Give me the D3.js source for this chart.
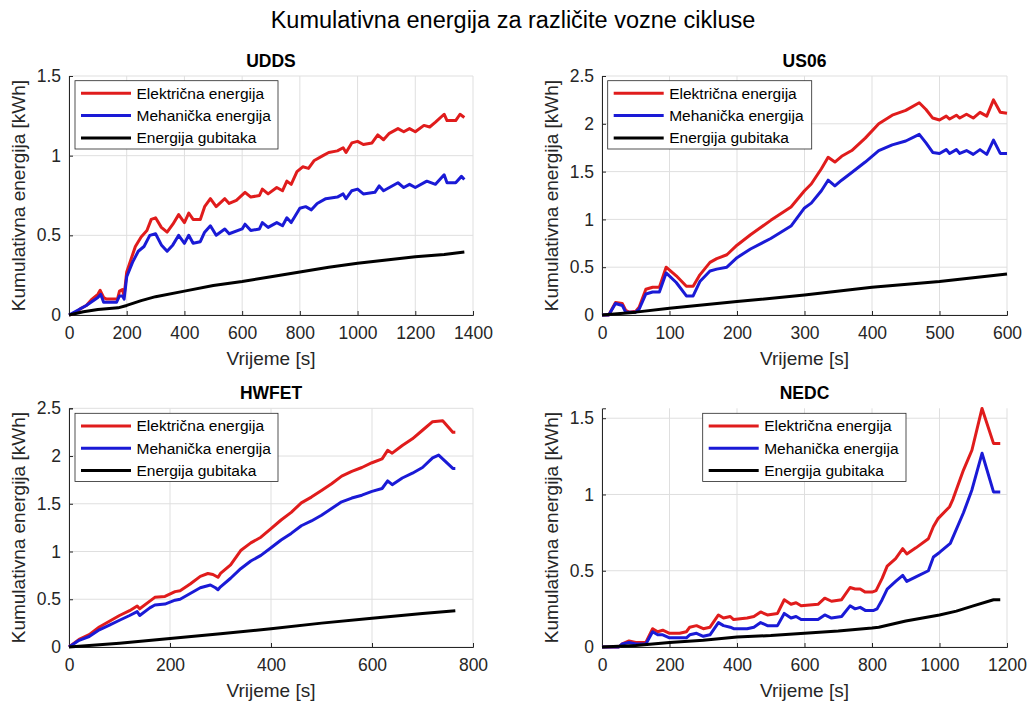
<!DOCTYPE html>
<html>
<head>
<meta charset="utf-8">
<script src="https://cdn.jsdelivr.net/npm/d3@7"></script>
<style>
  html, body { margin: 0; padding: 0; background: #fff; }
  svg { display: block; font-family: "Liberation Sans", Arial, sans-serif; }
</style>
</head>
<body>
<svg id="chart" width="1027" height="704"></svg>
<script>
// ---------- DATA ----------
const chartTitle = "Kumulativna energija za različite vozne cikluse";
const cycleNames = ["UDDS", "US06", "HWFET", "NEDC"];
const seriesNames = ["Električna energija", "Mehanička energija", "Energija gubitaka"];
const xLabel = "Vrijeme [s]";
const yLabel = "Kumulativna energija [kWh]";

// UDDS [time s, energy kWh]
const uddsElec = [[0,0],[20,0.01],[40,0.04],[60,0.06],[80,0.1],[100,0.13],[108,0.155],[120,0.11],[130,0.1],[168,0.1],[175,0.15],[185,0.16],[191,0.12],[200,0.27],[215,0.35],[230,0.43],[250,0.49],[270,0.53],[285,0.6],[300,0.61],[320,0.55],[340,0.52],[360,0.57],[380,0.63],[400,0.58],[415,0.64],[430,0.6],[455,0.6],[470,0.68],[490,0.73],[510,0.68],[540,0.73],[555,0.7],[580,0.72],[610,0.77],[630,0.74],[660,0.75],[670,0.79],[690,0.76],[720,0.8],[740,0.78],[755,0.84],[770,0.82],[790,0.9],[810,0.93],[830,0.92],[850,0.97],[880,1.0],[900,1.02],[930,1.03],[950,1.05],[960,1.02],[980,1.08],[1000,1.09],[1020,1.07],[1050,1.08],[1070,1.13],[1090,1.1],[1110,1.14],[1140,1.17],[1160,1.15],[1180,1.17],[1200,1.15],[1230,1.19],[1250,1.18],[1270,1.21],[1300,1.26],[1310,1.22],[1340,1.22],[1355,1.26],[1370,1.24]];
const uddsMech = [[0,0],[30,0.03],[60,0.06],[100,0.11],[110,0.13],[120,0.08],[165,0.08],[175,0.12],[185,0.12],[191,0.1],[200,0.24],[220,0.33],[240,0.4],[260,0.43],[280,0.5],[300,0.51],[320,0.44],[340,0.4],[360,0.44],[380,0.5],[400,0.45],[415,0.5],[430,0.45],[455,0.46],[470,0.52],[490,0.56],[510,0.5],[540,0.54],[555,0.51],[600,0.54],[610,0.57],[630,0.53],[660,0.54],[670,0.58],[690,0.55],[720,0.58],[740,0.56],[755,0.61],[770,0.58],[800,0.67],[820,0.68],[840,0.66],[860,0.7],[890,0.73],[930,0.74],[950,0.76],[960,0.73],[980,0.78],[1000,0.79],[1020,0.76],[1060,0.77],[1075,0.81],[1090,0.78],[1140,0.83],[1160,0.8],[1180,0.82],[1200,0.8],[1240,0.84],[1270,0.82],[1300,0.88],[1310,0.83],[1340,0.83],[1360,0.87],[1370,0.85]];
const uddsLoss = [[0,0],[50,0.02],[100,0.035],[170,0.045],[200,0.06],[250,0.09],[300,0.115],[400,0.15],[500,0.185],[600,0.21],[700,0.24],[800,0.27],[900,0.3],[1000,0.325],[1100,0.345],[1200,0.365],[1300,0.38],[1370,0.395]];

// US06
const us06Elec = [[0,0],[10,0],[20,0.13],[30,0.12],[35,0.05],[40,0.03],[50,0.04],[55,0.08],[65,0.27],[75,0.29],[85,0.29],[95,0.5],[110,0.41],[125,0.3],[135,0.3],[145,0.42],[160,0.55],[170,0.59],[185,0.63],[200,0.73],[220,0.84],[250,0.99],[280,1.13],[300,1.3],[310,1.37],[325,1.53],[335,1.65],[345,1.6],[355,1.66],[370,1.72],[390,1.85],[410,2.0],[430,2.09],[450,2.14],[470,2.22],[480,2.15],[490,2.06],[500,2.04],[510,2.08],[515,2.05],[525,2.09],[530,2.06],[540,2.1],[550,2.06],[560,2.12],[570,2.08],[580,2.25],[590,2.12],[600,2.11]];
const us06Mech = [[0,0],[10,0],[20,0.12],[30,0.1],[35,0.03],[50,0.03],[55,0.06],[65,0.22],[75,0.24],[85,0.24],[95,0.44],[110,0.34],[125,0.2],[135,0.2],[145,0.35],[160,0.46],[170,0.48],[185,0.5],[200,0.6],[220,0.69],[250,0.8],[280,0.93],[300,1.12],[310,1.17],[325,1.3],[335,1.41],[345,1.35],[355,1.41],[370,1.49],[390,1.6],[410,1.72],[430,1.78],[450,1.82],[470,1.89],[480,1.8],[490,1.7],[500,1.69],[510,1.73],[515,1.69],[525,1.73],[530,1.69],[540,1.72],[550,1.68],[560,1.73],[570,1.68],[580,1.83],[590,1.69],[600,1.69]];
const us06Loss = [[0,0],[50,0.03],[100,0.07],[200,0.14],[300,0.21],[400,0.29],[500,0.35],[600,0.43]];

// HWFET
const hwfetElec = [[0,0],[20,0.08],[40,0.13],[60,0.21],[80,0.27],[100,0.33],[120,0.38],[135,0.43],[140,0.4],[160,0.48],[170,0.52],[190,0.53],[210,0.58],[220,0.59],[240,0.66],[260,0.74],[275,0.77],[285,0.76],[295,0.73],[300,0.77],[320,0.86],[340,1.01],[360,1.09],[380,1.15],[400,1.24],[420,1.33],[440,1.41],[460,1.51],[480,1.57],[500,1.64],[520,1.71],[540,1.79],[560,1.84],[580,1.88],[600,1.93],[620,1.97],[631,2.06],[640,2.03],[660,2.11],[680,2.18],[700,2.27],[720,2.36],[740,2.37],[750,2.31],[760,2.25],[765,2.25]];
const hwfetMech = [[0,0],[20,0.07],[40,0.11],[60,0.18],[80,0.23],[100,0.28],[120,0.33],[135,0.37],[140,0.33],[160,0.41],[170,0.44],[190,0.45],[210,0.49],[220,0.5],[240,0.56],[260,0.62],[280,0.65],[290,0.62],[295,0.6],[300,0.63],[320,0.72],[340,0.82],[360,0.9],[380,0.96],[400,1.04],[420,1.12],[440,1.19],[460,1.27],[480,1.32],[500,1.38],[520,1.45],[540,1.52],[560,1.56],[580,1.59],[600,1.63],[620,1.66],[631,1.74],[640,1.7],[660,1.77],[680,1.82],[700,1.88],[720,1.98],[732,2.01],[750,1.92],[760,1.87],[765,1.87]];
const hwfetLoss = [[0,0],[100,0.04],[200,0.09],[300,0.14],[400,0.19],[500,0.25],[600,0.3],[700,0.35],[765,0.38]];

// NEDC
const nedcElec = [[0,0],[50,0],[60,0.02],[80,0.04],[100,0.03],[130,0.03],[150,0.12],[165,0.1],[180,0.11],[200,0.09],[230,0.09],[250,0.1],[260,0.13],[280,0.14],[300,0.12],[320,0.13],[345,0.21],[360,0.19],[380,0.2],[390,0.18],[430,0.19],[450,0.2],[470,0.23],[490,0.21],[520,0.22],[540,0.31],[560,0.28],[575,0.29],[590,0.27],[640,0.28],[660,0.32],[680,0.3],[710,0.31],[735,0.39],[750,0.38],[765,0.38],[780,0.36],[800,0.36],[812,0.37],[830,0.45],[845,0.53],[870,0.58],[891,0.645],[903,0.61],[930,0.65],[967,0.71],[982,0.79],[995,0.84],[1030,0.92],[1040,0.97],[1071,1.16],[1096,1.29],[1126,1.564],[1160,1.335],[1180,1.335]];
const nedcMech = [[0,0],[50,0],[60,0.02],[80,0.03],[100,0.02],[130,0.02],[150,0.1],[165,0.08],[180,0.08],[200,0.06],[230,0.06],[250,0.06],[260,0.08],[280,0.09],[300,0.07],[320,0.08],[345,0.16],[360,0.14],[380,0.13],[390,0.12],[430,0.12],[450,0.13],[470,0.16],[490,0.14],[520,0.14],[540,0.22],[560,0.19],[575,0.2],[590,0.18],[640,0.18],[660,0.21],[680,0.19],[710,0.2],[735,0.27],[750,0.25],[765,0.26],[780,0.24],[805,0.24],[815,0.25],[830,0.31],[845,0.38],[870,0.43],[891,0.47],[903,0.43],[930,0.46],[967,0.5],[982,0.59],[1000,0.62],[1032,0.68],[1071,0.88],[1096,1.03],[1126,1.27],[1160,1.017],[1180,1.017]];
const nedcLoss = [[0,0],[100,0.01],[200,0.03],[300,0.045],[400,0.065],[500,0.075],[600,0.09],[700,0.105],[800,0.125],[820,0.13],[900,0.17],[1000,0.21],[1050,0.235],[1100,0.27],[1160,0.31],[1180,0.31]];

// Axis ranges and tick values
const xMaxes = [1400, 600, 800, 1200];
const yMaxes = [1.5, 2.5, 2.5, 1.565];
const xTicksUDDS = [0,200,400,600,800,1000,1200,1400];
const xTicksUS06 = [0,100,200,300,400,500,600];
const xTicksHWFET = [0,200,400,600,800];
const xTicksNEDC = [0,200,400,600,800,1000,1200];
const yTicksUDDS = [0,0.5,1,1.5];
const yTicksUS06 = [0,0.5,1,1.5,2,2.5];
const yTicksHWFET = [0,0.5,1,1.5,2,2.5];
const yTicksNEDC = [0,0.5,1,1.5];

// ---------- LAYOUT / STYLE ----------
const seriesColors = ["#e01c1c", "#1a1ad6", "#000000"];
const axisColor = "#262626";
const gridColor = "#dfdfdf";

const panels = [
  { name: cycleNames[0], series: [uddsElec, uddsMech, uddsLoss], xMax: xMaxes[0], yMax: yMaxes[0], xt: xTicksUDDS, yt: yTicksUDDS,
    box: {l: 69, r: 473, t: 76, b: 315}, legend: {x: 75, y: 80.7, w: 203} },
  { name: cycleNames[1], series: [us06Elec, us06Mech, us06Loss], xMax: xMaxes[1], yMax: yMaxes[1], xt: xTicksUS06, yt: yTicksUS06,
    box: {l: 602, r: 1007, t: 76, b: 315}, legend: {x: 607.7, y: 80.7, w: 204} },
  { name: cycleNames[2], series: [hwfetElec, hwfetMech, hwfetLoss], xMax: xMaxes[2], yMax: yMaxes[2], xt: xTicksHWFET, yt: yTicksHWFET,
    box: {l: 69, r: 473, t: 408.3, b: 647}, legend: {x: 75, y: 413.3, w: 203} },
  { name: cycleNames[3], series: [nedcElec, nedcMech, nedcLoss], xMax: xMaxes[3], yMax: yMaxes[3], xt: xTicksNEDC, yt: yTicksNEDC,
    box: {l: 602, r: 1007, t: 408.3, b: 647}, legend: {x: 702.7, y: 413.3, w: 203.3} }
];

const svg = d3.select("#chart");
svg.append("rect").attr("width", 1027).attr("height", 704).attr("fill", "#fff");

svg.append("text")
  .attr("x", 513).attr("y", 28)
  .attr("text-anchor", "middle")
  .attr("font-size", 23.5)
  .attr("fill", "#000")
  .text(chartTitle);

panels.forEach(p => {
  const b = p.box;
  const x = d3.scaleLinear().domain([0, p.xMax]).range([b.l, b.r]);
  const y = d3.scaleLinear().domain([0, p.yMax]).range([b.b, b.t]);
  const g = svg.append("g");

  // grid
  g.selectAll(".gx").data(p.xt).join("line")
    .attr("x1", d => x(d)).attr("x2", d => x(d))
    .attr("y1", b.t).attr("y2", b.b)
    .attr("stroke", gridColor).attr("stroke-width", 1);
  g.selectAll(".gy").data(p.yt).join("line")
    .attr("x1", b.l).attr("x2", b.r)
    .attr("y1", d => y(d)).attr("y2", d => y(d))
    .attr("stroke", gridColor).attr("stroke-width", 1);

  // axes
  const xAxis = d3.axisBottom(x).tickValues(p.xt).tickSize(-4).tickPadding(8).tickFormat(d3.format("~g"));
  const yAxis = d3.axisLeft(y).tickValues(p.yt).tickSize(-4).tickPadding(8).tickFormat(d3.format("~g"));
  const gx = g.append("g").attr("transform", `translate(0,${b.b})`).call(xAxis);
  const gy = g.append("g").attr("transform", `translate(${b.l},0)`).call(yAxis);
  [gx, gy].forEach(a => {
    a.select(".domain").attr("stroke", axisColor).attr("stroke-width", 1);
    a.selectAll(".tick line").attr("stroke", axisColor);
    a.selectAll(".tick text").attr("fill", axisColor).attr("font-size", 17.5)
      .attr("font-family", "'Liberation Sans', Arial, sans-serif");
  });
  gx.selectAll(".tick text").attr("dy", "0.9em");

  // lines
  const line = d3.line().x(d => x(d[0])).y(d => y(d[1]));
  p.series.forEach((s, i) => {
    g.append("path").datum(s)
      .attr("d", line)
      .attr("fill", "none")
      .attr("stroke", seriesColors[i])
      .attr("stroke-width", 3)
      .attr("stroke-linejoin", "round")
      .attr("stroke-linecap", "butt");
  });

  // panel title
  g.append("text")
    .attr("x", (b.l + b.r) / 2).attr("y", b.t - 9.5)
    .attr("text-anchor", "middle")
    .attr("font-size", 17.5).attr("font-weight", "bold")
    .attr("fill", "#000")
    .text(p.name);

  // axis labels
  g.append("text")
    .attr("x", (b.l + b.r) / 2).attr("y", b.b + 50)
    .attr("text-anchor", "middle")
    .attr("font-size", 19).attr("fill", axisColor)
    .text(xLabel);
  g.append("text")
    .attr("transform", `translate(${b.l - 44},${(b.t + b.b) / 2}) rotate(-90)`)
    .attr("text-anchor", "middle")
    .attr("font-size", 19).attr("fill", axisColor)
    .text(yLabel);

  // legend
  const L = p.legend;
  const lg = g.append("g").attr("transform", `translate(${L.x},${L.y})`);
  lg.append("rect").attr("width", L.w).attr("height", 68.3)
    .attr("fill", "#fff").attr("stroke", axisColor).attr("stroke-width", 0.8);
  seriesNames.forEach((nm, i) => {
    const yy = 12.6 + i * 22.3;
    lg.append("line").attr("x1", 6).attr("x2", 56).attr("y1", yy).attr("y2", yy)
      .attr("stroke", seriesColors[i]).attr("stroke-width", 3);
    lg.append("text").attr("x", 61.5).attr("y", yy + 5.5)
      .attr("font-size", 15.5).attr("fill", "#000").text(nm);
  });
});
</script>
</body>
</html>
